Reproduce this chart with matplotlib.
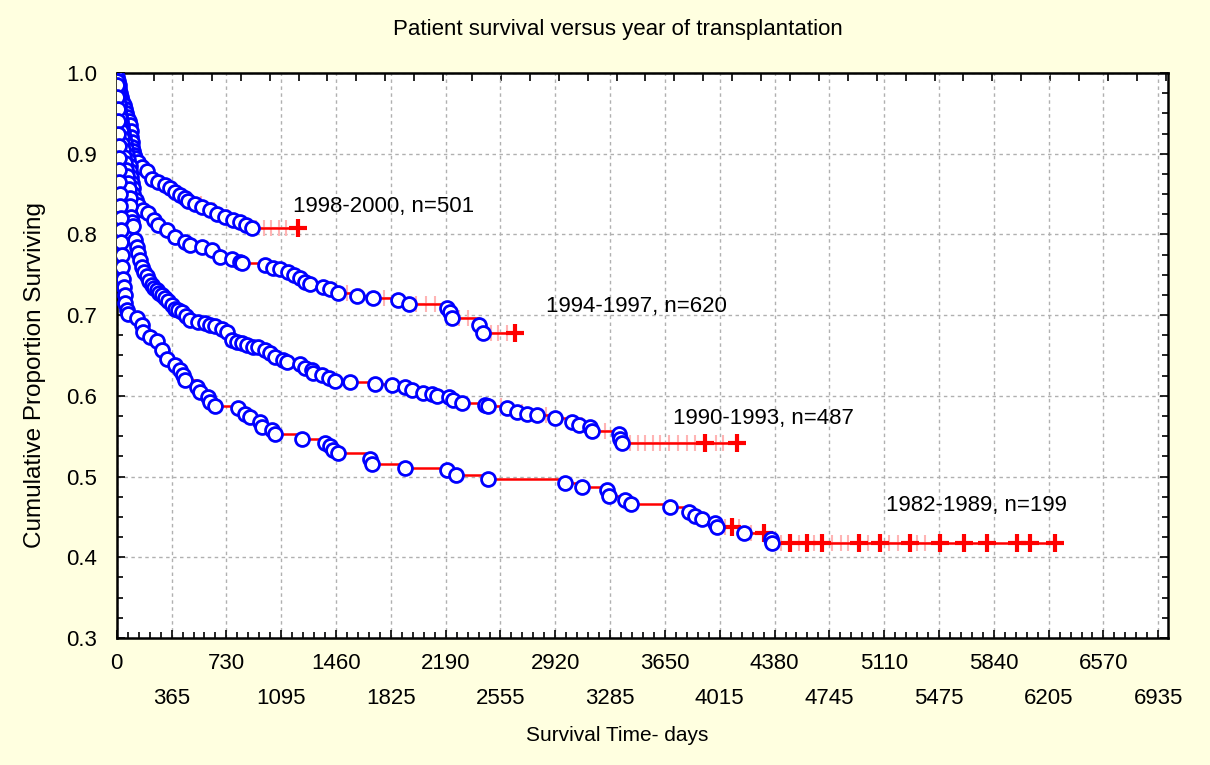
import numpy as np
import matplotlib
matplotlib.use("Agg")
import matplotlib.pyplot as plt

plt.rcParams['font.family'] = ['Liberation Sans', 'DejaVu Sans']

# Kaplan-Meier step data (days, cumulative proportion surviving)
t_9800 = [4, 8, 13, 18, 24, 30, 37, 45, 53, 62, 71, 80, 88, 92, 96, 100, 104, 108, 113, 122,
          144, 166, 200, 233, 277, 322, 355, 388, 422, 455, 477, 520, 566, 620, 670, 720, 772, 821, 860, 899]
s_9800 = [.995, .99, .985, .98, .975, .97, .965, .96, .955, .95, .945, .94, .935, .928, .921, .914, .908, .903, .899, .895,
          .89, .884, .878, .869, .865, .861, .857, .853, .849, .845, .841, .838, .834, .83, .825, .822, .818, .815, .812, .808]
c_9800 = [1210]
f_9800 = [480, 560, 650, 740, 930, 980, 1030, 1080, 1130]

t_9497 = [3, 6, 10, 14, 18, 23, 28, 34, 40, 47, 54, 62, 70, 78, 85, 90, 95, 100, 105, 110,
          125, 144, 175, 211, 245, 277, 333, 388, 455, 488, 566, 633, 688, 766, 821, 833, 988, 1043, 1088, 1143,
          1177, 1221, 1254, 1288, 1376, 1421, 1476, 1598, 1705, 1876, 1949, 2202, 2220, 2231, 2409, 2438]
s_9497 = [.99, .98, .97, .962, .955, .948, .941, .934, .927, .92, .913, .906, .899, .892, .885, .878, .871, .864, .857, .85,
          .843, .836, .83, .826, .818, .812, .805, .797, .791, .787, .785, .781, .772, .77, .766, .765, .762, .759, .757, .753,
          .75, .746, .741, .738, .735, .732, .728, .724, .721, .719, .714, .709, .704, .697, .688, .678]
c_9497 = [2653]
f_9497 = [1530, 1620, 1780, 1990, 2060, 2120, 2280, 2340, 2490, 2540, 2600]

t_9093 = [3, 6, 9, 12, 15, 19, 23, 27, 32, 37, 42, 48, 54, 60, 67, 74, 80, 85, 90, 95,
          103, 111, 122, 133, 144, 155, 166, 183, 200, 216, 233, 250, 266, 283, 300, 322, 344, 366, 388, 410,
          433, 460, 488, 540, 588, 620, 655, 700, 733, 766, 800, 833, 870, 910, 943, 988, 1021, 1054, 1110, 1132,
          1221, 1254, 1299, 1310, 1365, 1410, 1454, 1554, 1720, 1832, 1920, 1965, 2038, 2098, 2131, 2209, 2242, 2298, 2453, 2475,
          2598, 2664, 2731, 2797, 2920, 3030, 3075, 3152, 3164, 3341, 3352, 3363]
s_9093 = [.99, .98, .97, .96, .952, .944, .936, .928, .92, .912, .904, .896, .888, .88, .872, .864, .856, .845, .835, .822,
          .815, .81, .793, .785, .777, .768, .76, .754, .748, .742, .737, .734, .731, .728, .725, .721, .717, .712, .708, .706,
          .704, .699, .694, .692, .69, .688, .686, .683, .679, .669, .667, .665, .663, .661, .66, .657, .653, .648, .645, .642,
          .64, .635, .632, .628, .626, .622, .619, .617, .615, .613, .611, .607, .604, .602, .6, .598, .595, .591, .589, .588,
          .585, .58, .578, .576, .572, .568, .564, .561, .557, .553, .547, .542]
c_9093 = [3918, 4131]
f_9093 = [2560, 2700, 2860, 3100, 3250, 3420, 3470, 3520, 3570, 3620, 3680, 3740, 3800, 3850, 3990, 4040]

t_8289 = [2, 4, 6, 8, 10, 12, 14, 16, 18, 20, 22, 25, 28, 31, 34, 38, 42, 47, 52, 58,
          67, 78, 133, 166, 177, 222, 271, 300, 333, 388, 422, 444, 455, 533, 555, 610, 621, 655, 810, 855,
          888, 955, 966, 1032, 1054, 1232, 1387, 1421, 1443, 1476, 1687, 1698, 1920, 2198, 2260, 2475, 2986, 3097, 3264, 3275,
          3386, 3423, 3681, 3808, 3852, 3896, 3985, 3996, 4178, 4356, 4365]
s_8289 = [.985, .97, .955, .94, .925, .91, .895, .88, .865, .85, .835, .82, .805, .79, .775, .76, .745, .735, .725, .715,
          .706, .702, .696, .688, .679, .673, .668, .657, .646, .638, .632, .626, .62, .611, .605, .599, .593, .588, .585, .578,
          .574, .568, .562, .558, .553, .547, .542, .538, .533, .529, .522, .516, .511, .508, .502, .497, .492, .487, .483, .476,
          .471, .466, .462, .456, .451, .447, .443, .438, .43, .423, .418]
c_8289 = [4100, 4312, 4485, 4597, 4696, 4940, 5084, 5284, 5484, 5640, 5795, 5995, 6084, 6250]
f_8289 = [4050, 4140, 4220, 4420, 4540, 4640, 4760, 4820, 4870, 5000, 5140, 5200, 5330, 5380]

labels = ['1998-2000, n=501', '1994-1997, n=620', '1990-1993, n=487', '1982-1989, n=199']
label_t = [1174, 2859, 3705, 5124]
label_s = [0.834, 0.711, 0.5725, 0.4647]

curves = [(t_9800, s_9800, c_9800, f_9800), (t_9497, s_9497, c_9497, f_9497),
          (t_9093, s_9093, c_9093, f_9093), (t_8289, s_8289, c_8289, f_8289)]

bg = '#FFFFE0'
fig = plt.figure(figsize=(12.1, 7.65), dpi=100, facecolor=bg)
ax = fig.add_axes([0.0965, 0.166, 0.8688, 0.7386])
ax.set_facecolor('white')

for (t, s, c, f), lab, lt, ls in zip(curves, labels, label_t, label_s):
    t = np.array(t, float)
    s = np.array(s, float)
    end = max(c)
    # faint censoring ticks around the line
    fi = np.searchsorted(t, f, side='right') - 1
    ax.plot(f, s[fi], '+', color='#ffb4b4', ms=11, mew=1.5, zorder=2)
    ax.step(np.r_[0, t, end], np.r_[1.0, s, s[-1]], where='post', color='red', lw=1.8, zorder=3)
    # censored cases sit on the step level at that time
    idx = np.searchsorted(t, c, side='right') - 1
    ax.plot(c, s[idx], '+', color='red', ms=13, mew=3, zorder=4)
    ax.plot(t, s, 'o', mfc='white', mec='blue', ms=10, mew=2, zorder=5)
    ax.text(lt, ls, lab, fontsize=16, va='center', ha='left', zorder=6)

ax.set_xlim(0, 7000)
ax.set_ylim(0.3, 1.0)

major_x = np.arange(0, 7000, 365)
ax.set_xticks(major_x)
ax.set_xticklabels([str(v) if i % 2 == 0 else '' for i, v in enumerate(major_x)])
ax.set_xticks(np.arange(0, 7000, 73), minor=True)
ax.set_yticks(np.arange(0.3, 1.01, 0.1))
ax.set_yticklabels(['%.1f' % v for v in np.arange(0.3, 1.01, 0.1)])
ax.set_yticks(np.arange(0.3, 1.0, 0.025), minor=True)
ax.tick_params(which='both', direction='in', right=True, labelsize=16, width=1.2)
ax.tick_params(which='major', length=6)
ax.tick_params(which='minor', length=4)
ax.tick_params(axis='x', which='major', pad=11)
ax.tick_params(axis='y', which='major', pad=14)

# second row of day labels
sec = ax.secondary_xaxis('bottom')
sec.set_xticks(major_x[1::2])
sec.set_xticklabels([str(v) for v in major_x[1::2]])
sec.tick_params(length=0, pad=36, labelsize=16)
sec.spines['bottom'].set_visible(False)

top = ax.secondary_xaxis('top')
top.set_xticks(np.arange(248, 7000, 192.5))
top.set_xticklabels([])
top.tick_params(direction='in', length=6, width=1.2)
top.spines['top'].set_visible(False)

ax.grid(True, which='major', color='#b0b0b0', linestyle=(0, (2.5, 2.5)), lw=1)
for sp in ax.spines.values():
    sp.set_linewidth(1.8)

fig.text(0.511, 0.961, 'Patient survival versus year of transplantation', fontsize=16, ha='center', va='center')
fig.text(0.510, 0.039, 'Survival Time- days', fontsize=15, ha='center', va='center')
fig.text(0.029, 0.51, 'Cumulative Proportion Surviving', fontsize=17.5, rotation=90, ha='center', va='center')

fig.savefig('out.png', dpi=100, facecolor=bg)
